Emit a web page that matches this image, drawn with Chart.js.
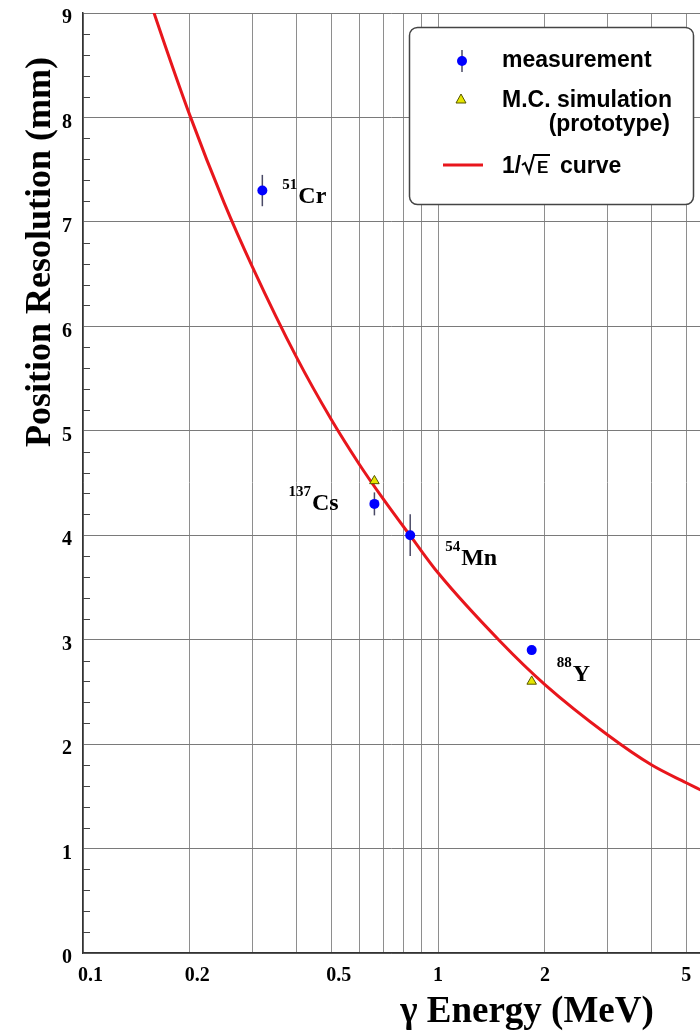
<!DOCTYPE html>
<html>
<head>
<meta charset="utf-8">
<script src="https://cdn.jsdelivr.net/npm/chart.js@4.4.1/dist/chart.umd.min.js"></script>
<style>
html,body{margin:0;padding:0;background:#fff;}
#wrap{width:700px;height:1031px;position:relative;}
</style>
</head>
<body>
<div id="wrap"><canvas id="c" width="700" height="1031"></canvas></div>
<script>
// ---------------- data ----------------
const sourceMass = ['51', '137', '54', '88'];
const sourceElem = ['Cr', 'Cs', 'Mn', 'Y'];
const measEnergy = [0.320, 0.662, 0.835, 1.836];   // MeV
const measRes    = [7.30, 4.30, 4.00, 2.90];       // mm
const measErr    = [0.15, 0.11, 0.20, 0.04];       // mm
const simEnergy  = [0.662, 1.836];
const simRes     = [4.52, 2.60];
const curveEnergy = [0.15, 0.16, 0.2, 0.25, 0.3, 0.4, 0.5, 0.6, 0.7, 0.85, 1.0, 1.5, 2, 3, 4, 5, 5.5];
const curveRes    = [9.25, 8.96, 8.02, 7.18, 6.57, 5.70, 5.11, 4.68, 4.35, 3.96, 3.64, 2.98, 2.57, 2.09, 1.80, 1.63, 1.56];
const xTickValues = [0.1, 0.2, 0.3, 0.4, 0.5, 0.6, 0.7, 0.8, 0.9, 1, 2, 3, 4, 5];
const xLabeledTicks = [0.1, 0.2, 0.5, 1, 2, 5];
const xLabelText    = ['0.1', '0.2', '0.5', '1', '2', '5'];
const yTickLabels   = ['0', '1', '2', '3', '4', '5', '6', '7', '8', '9'];
const legendText = ['measurement', 'M.C. simulation', '(prototype)', '1/', 'E', 'curve'];
const xTitle = '\u03B3 Energy (MeV)';
const yTitle = 'Position Resolution (mm)';

// ---------------- styles / placement ----------------
const SERIF = '"Liberation Serif", "Times New Roman", serif';
const SANS = '"Liberation Sans", Arial, Helvetica, sans-serif';
// label placement relative to the data point (pixels): start x offset, main baseline offset
const labelPlace = [
  {dx: 20, dy: 12},
  {dx: -86, dy: 6},
  {dx: 35, dy: 30},
  {dx: 25, dy: 31}
];

const errorBars = {
  id: 'errorBars',
  beforeDatasetsDraw(chart) {
    const c = chart.ctx, xs = chart.scales.x, ys = chart.scales.y;
    c.save();
    c.strokeStyle = '#4a4a66';
    c.lineWidth = 1.5;
    measEnergy.forEach((e, i) => {
      const x = xs.getPixelForValue(e);
      const y1 = ys.getPixelForValue(measRes[i] - measErr[i]);
      const y2 = ys.getPixelForValue(measRes[i] + measErr[i]);
      c.beginPath(); c.moveTo(x, y1); c.lineTo(x, y2); c.stroke();
    });
    c.restore();
  }
};

const minorTicks = {
  id: 'minorTicks',
  afterDraw(chart) {
    const c = chart.ctx, ys = chart.scales.y, a = chart.chartArea;
    c.save();
    c.strokeStyle = '#444';
    c.lineWidth = 1;
    for (let k = 0; k < 9; k++) {
      for (let m = 1; m < 5; m++) {
        const y = Math.round(ys.getPixelForValue(k + m * 0.2)) + 0.5;
        c.beginPath(); c.moveTo(a.left, y); c.lineTo(a.left + 7, y); c.stroke();
      }
    }
    c.restore();
  }
};

const annotations = {
  id: 'annotations',
  afterDraw(chart) {
    const c = chart.ctx, xs = chart.scales.x, ys = chart.scales.y;
    c.save();
    c.fillStyle = '#000';
    c.textBaseline = 'alphabetic';
    c.textAlign = 'left';
    measEnergy.forEach((e, i) => {
      const px = xs.getPixelForValue(e), py = ys.getPixelForValue(measRes[i]);
      const p = labelPlace[i];
      const x0 = px + p.dx, yb = py + p.dy;
      c.font = 'bold 15px ' + SERIF;
      c.fillText(sourceMass[i], x0, yb - 14);
      const w = c.measureText(sourceMass[i]).width;
      c.font = 'bold 24px ' + SERIF;
      c.fillText(sourceElem[i], x0 + w + 1, yb);
    });
    // axis titles
    c.font = 'bold 37px ' + SERIF;
    c.textAlign = 'center';
    c.fillText(xTitle, 527, 1022);
    c.font = 'bold 36px ' + SERIF;
    c.save();
    c.translate(50, 252);
    c.rotate(-Math.PI / 2);
    c.fillText(yTitle, 0, 0);
    c.restore();
    c.restore();
  }
};

const legendBox = {
  id: 'legendBox',
  afterDraw(chart) {
    const c = chart.ctx;
    c.save();
    // box
    c.beginPath();
    c.roundRect(409.5, 27.5, 284, 177, 8);
    c.fillStyle = '#fff';
    c.fill();
    c.strokeStyle = '#444';
    c.lineWidth = 1.5;
    c.stroke();
    // entry 1: measurement
    c.strokeStyle = '#4a4a66';
    c.beginPath(); c.moveTo(462, 50); c.lineTo(462, 72); c.stroke();
    c.fillStyle = '#0000ff';
    c.beginPath(); c.arc(462, 61, 5, 0, Math.PI * 2); c.fill();
    c.fillStyle = '#000';
    c.font = 'bold 23px ' + SANS;
    c.textBaseline = 'middle';
    c.textAlign = 'left';
    c.fillText(legendText[0], 502, 61);
    // entry 2: simulation
    c.beginPath();
    c.moveTo(461, 94); c.lineTo(466, 103); c.lineTo(456, 103); c.closePath();
    c.fillStyle = '#e6e600'; c.fill();
    c.strokeStyle = '#555500'; c.lineWidth = 1; c.stroke();
    c.fillStyle = '#000';
    c.fillText(legendText[1], 502, 101);
    c.textAlign = 'right';
    c.fillText(legendText[2], 670, 125);
    // entry 3: curve
    c.strokeStyle = '#e8161c'; c.lineWidth = 3;
    c.beginPath(); c.moveTo(443, 165); c.lineTo(483, 165); c.stroke();
    c.textAlign = 'left';
    c.textBaseline = 'alphabetic';
    c.fillStyle = '#000';
    c.fillText(legendText[3], 502, 173);
    c.strokeStyle = '#000'; c.lineWidth = 2;
    c.beginPath();
    c.moveTo(522, 165); c.lineTo(525, 163); c.lineTo(529, 173); c.lineTo(534, 155); c.lineTo(550, 155);
    c.stroke();
    c.font = 'bold 17px ' + SANS;
    c.fillText(legendText[4], 537, 173);
    c.font = 'bold 23px ' + SANS;
    c.fillText(legendText[5], 560, 173);
    c.restore();
  }
};

const chart = new Chart(document.getElementById('c').getContext('2d'), {
  type: 'scatter',
  data: {
    datasets: [
      {
        label: 'measurement',
        data: measEnergy.map((e, i) => ({x: e, y: measRes[i]})),
        backgroundColor: '#0000ff',
        borderColor: '#0000ff',
        borderWidth: 0,
        pointRadius: 5,
        pointStyle: 'circle',
        order: 1
      },
      {
        label: 'M.C. simulation (prototype)',
        data: simEnergy.map((e, i) => ({x: e, y: simRes[i]})),
        backgroundColor: '#e6e600',
        borderColor: '#555500',
        borderWidth: 1,
        pointRadius: 5.5,
        pointStyle: 'triangle',
        order: 2
      },
      {
        type: 'line',
        label: '1/\u221AE curve',
        data: curveEnergy.map((e, i) => ({x: e, y: curveRes[i]})),
        borderColor: '#e8161c',
        borderWidth: 3,
        pointRadius: 0,
        fill: false,
        showLine: true,
        cubicInterpolationMode: 'monotone',
        order: 3
      }
    ]
  },
  options: {
    responsive: false,
    animation: false,
    devicePixelRatio: 1,
    layout: {autoPadding: false, padding: {top: 13, right: 0, bottom: 0, left: 0}},
    plugins: {legend: {display: false}, tooltip: {enabled: false}},
    scales: {
      x: {
        type: 'logarithmic',
        min: 0.1,
        max: 5.47,
        afterFit(s) { s.height = 78; s.paddingLeft = 0; s.paddingRight = 0; },
        afterBuildTicks(s) { s.ticks = xTickValues.map(v => ({value: v})); },
        ticks: {
          autoSkip: false,
          maxRotation: 0,
          minRotation: 0,
          padding: 11,
          color: '#000',
          font: {family: SERIF, weight: 'bold', size: 20},
          callback(v) {
            const i = xLabeledTicks.findIndex(t => Math.abs(t - v) < 1e-9);
            if (i < 0) return '';
            return (xLabeledTicks[i] < 1 ? '   ' : '') + xLabelText[i];
          }
        },
        grid: {color: '#8e8e8e', lineWidth: 1, drawTicks: false},
        border: {color: '#333', width: 1.5}
      },
      y: {
        min: 0,
        max: 9,
        afterFit(s) { s.width = 83; s.paddingTop = 0; s.paddingBottom = 0; },
        ticks: {
          stepSize: 1,
          padding: 11,
          labelOffset: 5,
          color: '#000',
          font: {family: SERIF, weight: 'bold', size: 20},
          callback(v) { return yTickLabels[Math.round(v)]; }
        },
        grid: {color: '#7a7a7a', lineWidth: 1, drawTicks: false},
        border: {color: '#333', width: 1.5}
      }
    }
  },
  plugins: [errorBars, minorTicks, annotations, legendBox]
});
</script>
</body>
</html>
